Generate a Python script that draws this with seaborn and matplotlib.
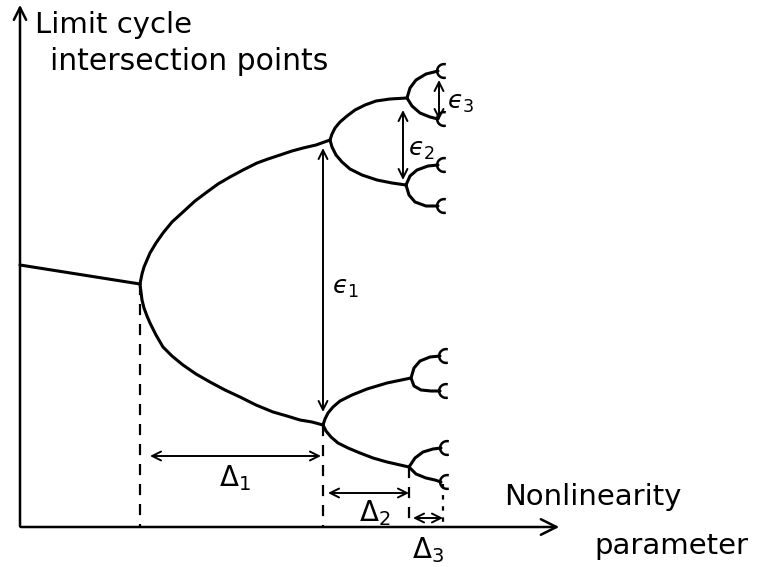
import pandas as pd
import matplotlib
matplotlib.use("Agg")
import matplotlib.pyplot as plt
from matplotlib.path import Path
import seaborn as sns

# Schematic period-doubling cascade, coordinates (pixels, y down)
stem_x = [20, 140]
stem_y = [265, 284]

# first doubling
upper1_x = [140, 141, 142, 144, 147, 150, 156, 163, 172, 183, 195, 207, 218, 230, 243,
            257, 268, 280, 292, 303, 316, 330]
upper1_y = [284, 279, 274, 267, 260, 253, 243, 233, 222, 212, 201, 192, 184, 177, 170,
            163, 159, 155, 151, 148, 145, 140]
lower1_x = [140, 141, 142, 144, 147, 150, 156, 163, 172, 183, 196, 210, 225, 240, 256,
            273, 287, 300, 312, 323]
lower1_y = [284, 292, 300, 308, 316, 323, 335, 347, 356, 365, 374, 382, 390, 397, 405,
            412, 416, 420, 422, 425]

# second doubling
up_up_x = [330, 332, 335, 340, 347, 355, 365, 376, 390, 407]
up_up_y = [140, 134, 128, 122, 116, 110, 105, 101, 99, 98]
up_dn_x = [330, 332, 336, 342, 350, 362, 377, 392, 406]
up_dn_y = [140, 147, 155, 162, 169, 175, 180, 183, 185]
dn_up_x = [323, 325, 328, 333, 340, 352, 367, 387, 411]
dn_up_y = [425, 419, 413, 407, 401, 395, 389, 383, 378]
dn_dn_x = [323, 326, 331, 338, 348, 360, 373, 387, 409]
dn_dn_y = [425, 431, 437, 443, 448, 453, 458, 462, 467]

# third doubling (fork point then two little branches each)
fork3_up_x = [[407, 410, 416, 426, 438], [406, 410, 417, 428, 438],
              [411, 414, 420, 430, 440], [409, 415, 423, 433, 441]]
fork3_up_y = [[98, 88, 80, 74, 71], [185, 176, 170, 166, 165],
              [378, 368, 361, 357, 356], [467, 458, 452, 449, 448]]
fork3_dn_x = [[407, 412, 420, 430, 438], [406, 409, 415, 426, 438],
              [411, 414, 421, 431, 440], [409, 416, 426, 435, 441]]
fork3_dn_y = [[98, 106, 113, 117, 119], [185, 195, 202, 206, 206],
              [378, 386, 390, 391, 391], [467, 474, 478, 480, 482]]

# dashed drop lines from bifurcation points
drop_x = [140, 323, 409]
drop_top = [284, 425, 467]
dot_x, dot_top = 443, 484
axis_y = 527

# double arrows: (x0, y0, x1, y1)
delta_arrows = [(150, 456, 321, 456), (328, 493, 409, 493), (413, 518, 443, 518)]
eps_arrows = [(323, 148, 323, 412), (403, 110, 403, 180), (439, 80, 439, 120)]
delta_labels = [r"$\Delta_1$", r"$\Delta_2$", r"$\Delta_3$"]
delta_pos = [(235, 478), (375, 513), (428, 550)]
eps_labels = ["$\u03f5_1$", "$\u03f5_2$", "$\u03f5_3$"]
eps_pos = [(345, 288), (421, 150), (461, 103)]

# build one long frame for all solid branches
segs = [(stem_x, stem_y), (upper1_x, upper1_y), (lower1_x, lower1_y),
        (up_up_x, up_up_y), (up_dn_x, up_dn_y), (dn_up_x, dn_up_y), (dn_dn_x, dn_dn_y)]
segs += list(zip(fork3_up_x, fork3_up_y)) + list(zip(fork3_dn_x, fork3_dn_y))
rows = []
for i, (xs, ys) in enumerate(segs):
    for x, y in zip(xs, ys):
        rows.append({"seg": i, "x": x, "y": y})
df = pd.DataFrame(rows)

# little "C" marks where the cascade continues
ends = pd.DataFrame({"x": [xs[-1] + 6 for xs in fork3_up_x + fork3_dn_x],
                     "y": [ys[-1] for ys in fork3_up_y + fork3_dn_y]})
c_mark = Path.arc(75, 285)

sns.set_style("white")
plt.rcParams["font.family"] = ["DejaVu Sans"]
plt.rcParams["mathtext.fontset"] = "dejavusans"
plt.rcParams["text.color"] = "black"

fig = plt.figure(figsize=(7.63, 5.67), dpi=100)
ax = fig.add_axes([0, 0, 1, 1])

sns.lineplot(data=df, x="x", y="y", units="seg", estimator=None, sort=False,
             color="black", linewidth=2.2, ax=ax)
sns.scatterplot(data=ends, x="x", y="y", marker=c_mark, s=100,
                facecolor="none", edgecolor="black", linewidth=1.8, ax=ax)

for x, top in zip(drop_x, drop_top):
    ax.plot([x, x], [top, axis_y], color="black", lw=1.6, ls=(0, (5, 4)))
ax.plot([dot_x, dot_x], [dot_top, axis_y], color="black", lw=1.6, ls=(0, (2, 3)))

# coordinate axes
ax.annotate("", xy=(20, 2), xytext=(20, 529),
            arrowprops=dict(arrowstyle="->", lw=1.8, color="black", mutation_scale=22))
ax.annotate("", xy=(562, axis_y), xytext=(18, axis_y),
            arrowprops=dict(arrowstyle="->", lw=1.8, color="black", mutation_scale=28))

for x0, y0, x1, y1 in delta_arrows + eps_arrows:
    ax.annotate("", xy=(x1, y1), xytext=(x0, y0),
                arrowprops=dict(arrowstyle="<->", lw=1.4, color="black",
                                mutation_scale=16, shrinkA=0, shrinkB=0))

for lab, (x, y) in zip(delta_labels, delta_pos):
    ax.text(x, y, lab, fontsize=20, ha="center", va="center", color="black")
for lab, (x, y) in zip(eps_labels, eps_pos):
    ax.text(x, y, lab, fontsize=18, ha="center", va="center", color="black")

ax.text(35, 25, "Limit cycle", fontsize=21, ha="left", va="center", color="black")
ax.text(50, 61, "intersection points", fontsize=21.5, ha="left", va="center", color="black")
ax.text(504, 497, "Nonlinearity", fontsize=21, ha="left", va="center", color="black")
ax.text(594, 546, "parameter", fontsize=21, ha="left", va="center", color="black")

ax.set_xlim(0, 763)
ax.set_ylim(567, 0)
ax.axis("off")

fig.savefig("out.png", dpi=100)
